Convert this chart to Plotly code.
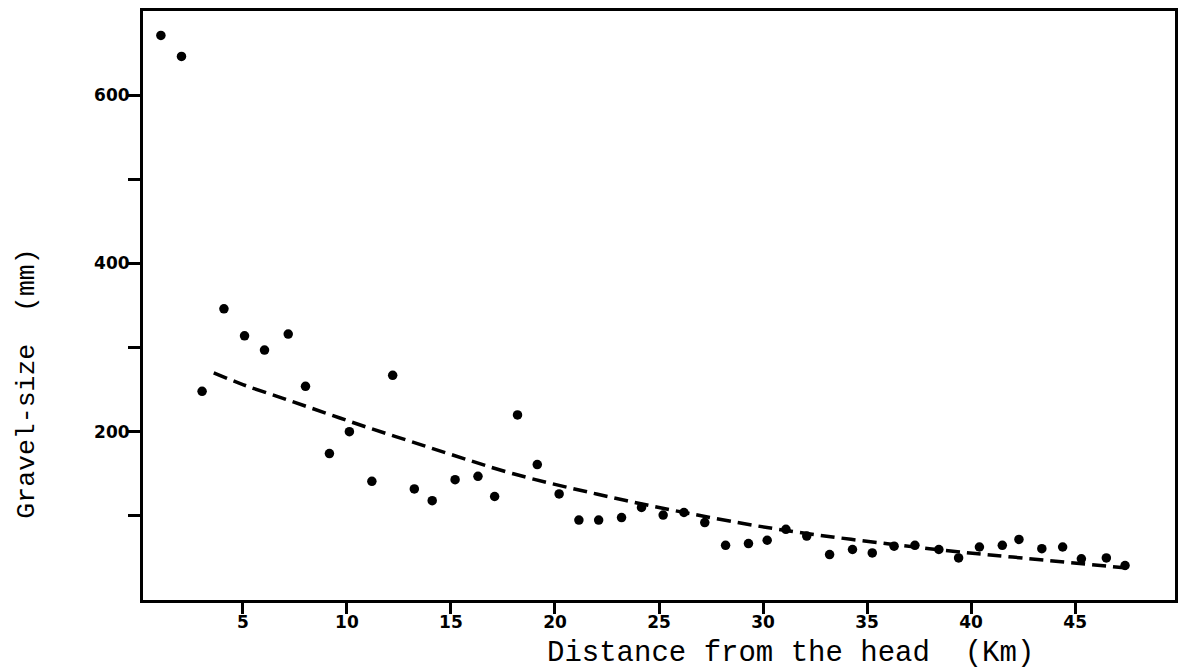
import plotly.graph_objects as go

# Observed gravel sizes
dist_km = [1.06, 2.05, 3.04, 4.09, 5.08, 6.04, 7.18, 8.01, 9.16, 10.12, 11.2, 12.2,
           13.24, 14.1, 15.2, 16.3, 17.1, 18.2, 19.15, 20.2, 21.15, 22.1, 23.2, 24.16,
           25.2, 26.2, 27.2, 28.2, 29.3, 30.2, 31.1, 32.1, 33.2, 34.3, 35.25, 36.3,
           37.3, 38.45, 39.4, 40.4, 41.5, 42.3, 43.4, 44.4, 45.3, 46.5, 47.4]
gravel_mm = [671, 646, 248, 346, 314, 297, 316, 254, 174, 200, 141, 267,
             132, 118, 143, 147, 123, 220, 161, 126, 95, 95, 98, 110,
             101, 104, 92, 65, 67, 71, 84, 76, 54, 60, 56, 64,
             65, 60, 50, 63, 65, 72, 61, 63, 49, 50, 41]

# Fitted trend (dashed)
trend_x = [3.6, 5.0, 7.0, 9.0, 11.0, 13.0, 15.0, 18.0, 22.0, 26.0, 31.0, 38.0, 42.0, 47.5]
trend_y = [270, 256, 239, 222, 205, 189, 173, 150, 126, 105, 83, 61, 51, 38]

x_ticks = [5, 10, 15, 20, 25, 30, 35, 40, 45]
y_ticks = [100, 200, 300, 400, 500, 600]
y_tick_text = ["", "200", "", "400", "", "600"]

fig = go.Figure()
fig.add_trace(go.Scatter(x=trend_x, y=trend_y, mode="lines",
                         line=dict(color="black", width=3.5, dash="14px,7px", shape="spline"),
                         hoverinfo="skip", showlegend=False))
fig.add_trace(go.Scatter(x=dist_km, y=gravel_mm, mode="markers",
                         marker=dict(color="black", size=9.5),
                         hoverinfo="skip", showlegend=False))

tickfont = dict(family="DejaVu Sans", size=17, color="black", weight="bold")
fig.update_xaxes(range=[0.2, 49.8], tickvals=x_ticks, ticktext=[str(v) for v in x_ticks],
                 ticks="outside", ticklen=11, tickwidth=3, tickcolor="black",
                 ticklabelstandoff=-6,
                 showline=True, linewidth=3, linecolor="black", mirror=True,
                 showgrid=False, zeroline=False, tickfont=tickfont)
fig.update_yaxes(range=[0, 700], tickvals=y_ticks, ticktext=y_tick_text,
                 ticks="outside", ticklen=12, tickwidth=3, tickcolor="black",
                 ticklabelstandoff=-5,
                 showline=True, linewidth=3, linecolor="black", mirror=True,
                 showgrid=False, zeroline=False, tickfont=tickfont)

fig.add_annotation(text="Distance from the head  (Km)", xref="paper", yref="paper",
                   x=0.627, y=-0.0912, xanchor="center", yanchor="middle",
                   showarrow=False, font=dict(family="Liberation Mono", size=29, color="black"))
fig.add_annotation(text="Gravel-size  (mm)", xref="paper", yref="paper",
                   x=-0.112, y=0.368, xanchor="center", yanchor="middle", textangle=-90,
                   showarrow=False, font=dict(family="Liberation Mono", size=26.5, color="black"))

fig.update_layout(width=1186, height=670, margin=dict(l=143, r=8, t=8, b=70),
                  plot_bgcolor="white", paper_bgcolor="white", hovermode=False)

fig.write_html("out.html", config={"displayModeBar": False},
               post_script="document.body.style.margin='0px';document.body.style.padding='0px';")
